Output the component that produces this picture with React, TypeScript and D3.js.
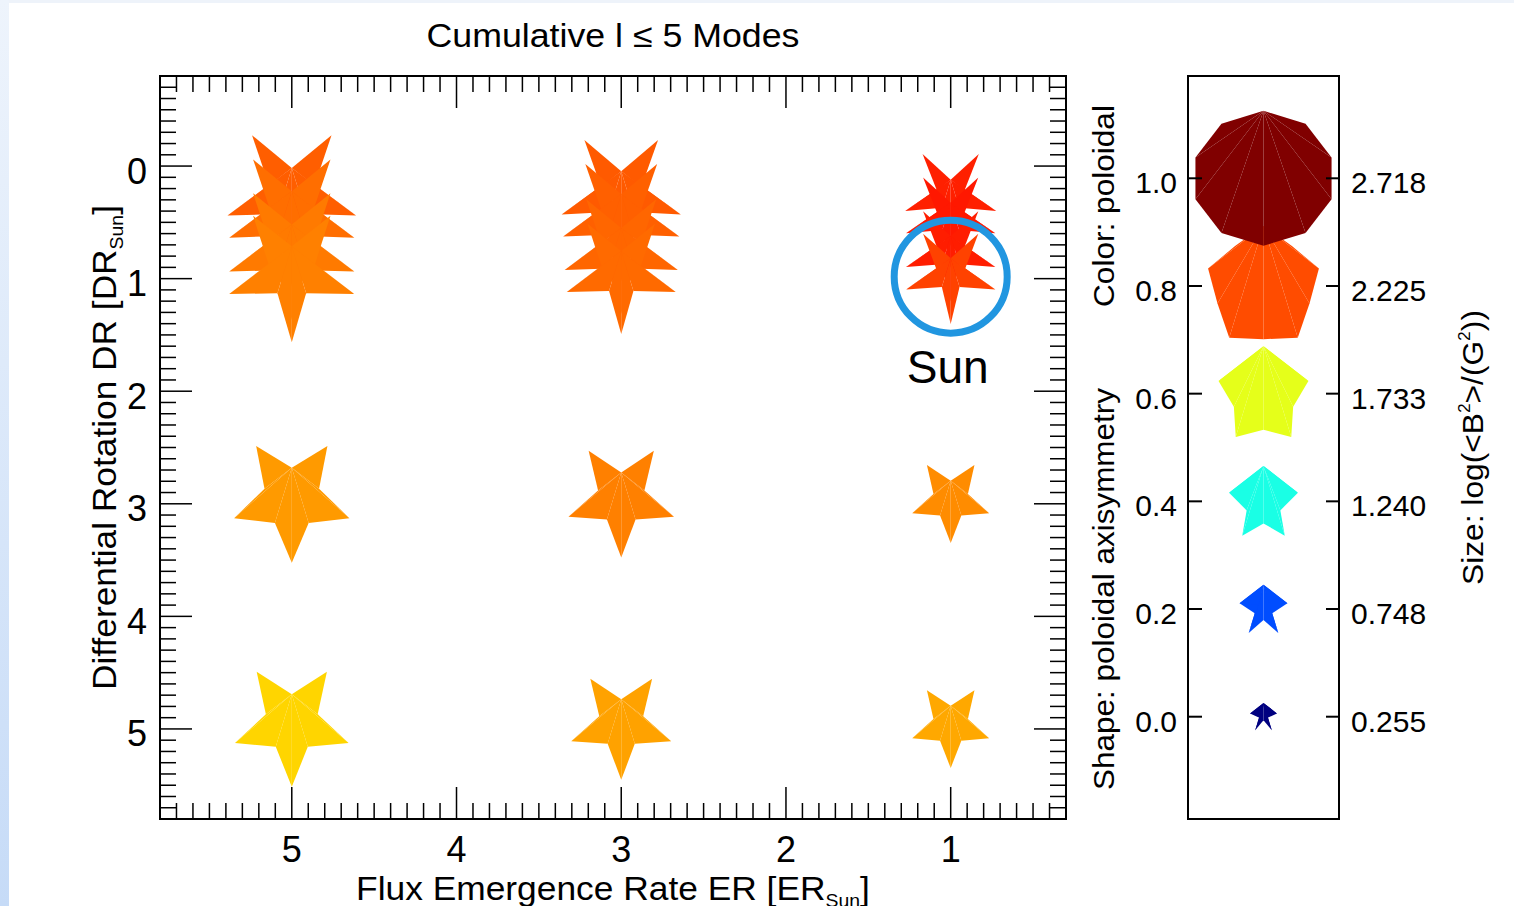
import React, { useEffect, useRef } from 'react';
import * as d3 from 'd3';

const W = 1514;
const H = 906;
const FONT = '"Liberation Sans", Arial, Helvetica, sans-serif';

// ---- data ----
const erValues = [5, 5, 5, 5, 5, 5, 3, 3, 3, 3, 3, 3, 1, 1, 1, 1, 1, 1];
const drValues = [0.3, 0.5, 0.8, 1.0, 3, 5, 0.3, 0.5, 0.8, 1.0, 3, 5, 0.3, 0.5, 0.8, 1.0, 3, 5];
// colour: poloidal fraction
const poloidal = [0.783, 0.767, 0.755, 0.75, 0.724, 0.666, 0.787, 0.781, 0.775, 0.771, 0.75, 0.716, 0.844, 0.851, 0.847, 0.81, 0.738, 0.71];
// shape: poloidal axisymmetry
const axisymmetry = [0.24, 0.24, 0.25, 0.26, 0.38, 0.36, 0.22, 0.23, 0.24, 0.25, 0.34, 0.34, 0.18, 0.18, 0.19, 0.2, 0.35, 0.35];
// size: log(<B^2>/G^2)
const logB2 = [2.64, 2.56, 2.56, 2.56, 2.33, 2.29, 2.42, 2.35, 2.28, 2.18, 2.1, 1.97, 1.76, 1.72, 1.72, 1.72, 1.43, 1.43];

const sunER = 1;
const sunDR = 1;

const xTicks = [5, 4, 3, 2, 1];
const yTicks = [0, 1, 2, 3, 4, 5];

const legendLevels = [0.0, 0.2, 0.4, 0.6, 0.8, 1.0];
const legendLeftLabels = ['0.0', '0.2', '0.4', '0.6', '0.8', '1.0'];
const legendSizes = [0.255, 0.748, 1.24, 1.733, 2.225, 2.718];
const legendRightLabels = ['0.255', '0.748', '1.240', '1.733', '2.225', '2.718'];

function jet(v: number): string {
  const c = (t: number) => Math.max(0, Math.min(1, t));
  const r = c(1.5 - Math.abs(4 * v - 3));
  const g = c(1.5 - Math.abs(4 * v - 2));
  const b = c(1.5 - Math.abs(4 * v - 1));
  return d3.rgb(r * 255, g * 255, b * 255).formatHex();
}

function symbolVerts(R: number, k: number, flip: boolean): [number, number][] {
  const poly = k >= 0.99;
  const sx = poly ? 0.97 : 0.94;
  const sy = poly ? 0.915 : 1;
  const sh = poly ? 0 : 0.09 * R * Math.min(1, (1 - k) / 0.55);
  const pts: [number, number][] = [];
  for (let i = 0; i < 10; i++) {
    const th = (i * Math.PI) / 5;
    const rho = i % 2 === 0 ? R : k * R;
    const x = sx * rho * Math.sin(th);
    let y = sy * (-rho * Math.cos(th)) + sh;
    if (flip) y = -y;
    pts.push([x, y]);
  }
  return pts;
}

function drawSymbol(g: any, cx: number, cy: number, R: number, k: number, color: string, flip: boolean) {
  const pts = symbolVerts(R, k, flip).map(([x, y]) => [cx + x, cy + y] as [number, number]);
  const o = flip ? 5 : 0;
  const line = d3.line();
  const sg = g.append('g');
  for (let j = 1; j <= 8; j++) {
    const a = pts[o];
    const b = pts[(o + j) % 10];
    const c = pts[(o + j + 1) % 10];
    sg.append('path').attr('d', line([a, b, c]) + 'Z').attr('fill', color).attr('stroke', 'none');
  }
}

type Part = { t: string; sub?: boolean; sup?: boolean };

function label(parent: any, x: number, y: number, parts: Part[], opts: { size: number; anchor?: string; rotate?: number; width?: number; family?: string }) {
  const { size, anchor = 'middle', rotate = 0, width, family = FONT } = opts;
  const g = parent.append('g').attr('transform', `translate(${x},${y}) rotate(${rotate})`);
  const t = g.append('text').attr('font-family', family).attr('font-size', size).attr('text-anchor', anchor).attr('fill', '#000').attr('x', 0).attr('y', 0);
  let cur = 0;
  parts.forEach((p) => {
    let target = 0;
    let fs = size;
    if (p.sub) { target = size * 0.2; fs = size * 0.55; }
    if (p.sup) { target = -size * 0.42; fs = size * 0.55; }
    const ts = t.append('tspan').attr('font-size', fs).text(p.t);
    if (target !== cur) ts.attr('dy', target - cur);
    cur = target;
  });
  if (width) {
    const w = (t.node() as SVGTextElement).getBBox().width;
    if (w > 0) t.attr('transform', `scale(${width / w},1)`);
  }
  return g;
}

export default function App() {
  const ref = useRef<SVGSVGElement | null>(null);

  useEffect(() => {
    const svg = d3.select(ref.current);
    svg.selectAll('*').remove();

    // background
    const defs = svg.append('defs');
    const grad = defs.append('linearGradient').attr('id', 'edge').attr('x1', 0).attr('y1', 0).attr('x2', 0).attr('y2', 1);
    grad.append('stop').attr('offset', '0%').attr('stop-color', '#eef4fc');
    grad.append('stop').attr('offset', '100%').attr('stop-color', '#c6dbf7');
    svg.append('rect').attr('x', 0).attr('y', 0).attr('width', W).attr('height', H).attr('fill', '#ffffff');
    svg.append('rect').attr('x', 0).attr('y', 0).attr('width', W).attr('height', 3).attr('fill', '#eef3fa');
    svg.append('rect').attr('x', 0).attr('y', 0).attr('width', 9).attr('height', H).attr('fill', 'url(#edge)');

    // ---- main plot ----
    const L = 160, R = 1066, T = 76, B = 819;
    const x = d3.scaleLinear().domain([5.8, 0.3]).range([L, R]);
    const y = d3.scaleLinear().domain([-0.8, 5.8]).range([T, B]);
    const rScale = d3.scaleLinear().domain([0.255, 2.225]).range([15, 62]);
    const kScale = d3.scaleLinear().domain([0, 1]).range([0.15, 1]);

    const marks = svg.append('g');
    erValues.forEach((er, i) => {
      drawSymbol(marks, x(er), y(drValues[i]), rScale(logB2[i]), kScale(axisymmetry[i]), jet(poloidal[i]), true);
    });

    // Sun marker
    svg.append('circle').attr('cx', x(sunER)).attr('cy', y(sunDR) - 2).attr('r', 56.5)
      .attr('fill', 'none').attr('stroke', '#2196e0').attr('stroke-width', 7);
    label(svg, x(sunER) - 3, y(sunDR) + 104, [{ t: 'Sun' }], { size: 46, width: 82 });

    // axes frame and ticks
    const ax = svg.append('g').attr('stroke', '#000');
    const xMinor = d3.range(4, 58).map((d) => d / 10).filter((d) => Math.abs(d - Math.round(d)) > 1e-6);
    const yMinor = d3.range(-7, 58).map((d) => d / 10).filter((d) => Math.abs(d - Math.round(d)) > 1e-6);
    xMinor.forEach((v) => {
      ax.append('line').attr('x1', x(v)).attr('x2', x(v)).attr('y1', B).attr('y2', B - 16).attr('stroke-width', 1.5);
      ax.append('line').attr('x1', x(v)).attr('x2', x(v)).attr('y1', T).attr('y2', T + 16).attr('stroke-width', 1.5);
    });
    xTicks.forEach((v) => {
      ax.append('line').attr('x1', x(v)).attr('x2', x(v)).attr('y1', B).attr('y2', B - 32).attr('stroke-width', 1.5);
      ax.append('line').attr('x1', x(v)).attr('x2', x(v)).attr('y1', T).attr('y2', T + 32).attr('stroke-width', 1.5);
    });
    yMinor.forEach((v) => {
      ax.append('line').attr('x1', L).attr('x2', L + 16).attr('y1', y(v)).attr('y2', y(v)).attr('stroke-width', 1.5);
      ax.append('line').attr('x1', R).attr('x2', R - 16).attr('y1', y(v)).attr('y2', y(v)).attr('stroke-width', 1.5);
    });
    yTicks.forEach((v) => {
      ax.append('line').attr('x1', L).attr('x2', L + 32).attr('y1', y(v)).attr('y2', y(v)).attr('stroke-width', 1.5);
      ax.append('line').attr('x1', R).attr('x2', R - 32).attr('y1', y(v)).attr('y2', y(v)).attr('stroke-width', 1.5);
    });
    ax.append('rect').attr('x', L).attr('y', T).attr('width', R - L).attr('height', B - T)
      .attr('fill', 'none').attr('stroke-width', 2);

    // tick labels
    xTicks.forEach((v) => label(svg, x(v), 862, [{ t: String(v) }], { size: 36 }));
    yTicks.forEach((v) => label(svg, 147, y(v) + 17.5, [{ t: String(v) }], { size: 36, anchor: 'end' }));

    // titles
    label(svg, (L + R) / 2, 47, [{ t: 'Cumulative l \u2264 5 Modes' }], { size: 33, width: 373 });
    label(svg, (L + R) / 2, 900, [{ t: 'Flux Emergence Rate ER [ER' }, { t: 'Sun', sub: true }, { t: ']' }], { size: 33, width: 514 });
    label(svg, 116, (T + B) / 2, [{ t: 'Differential Rotation DR [DR' }, { t: 'Sun', sub: true }, { t: ']' }], { size: 33, rotate: -90, width: 485 });

    // ---- legend panel ----
    const LL = 1188, LR = 1339;
    const ly = d3.scaleLinear().domain([-0.19, 1.19]).range([B, T]);
    const lcx = (LL + LR) / 2;
    const leg = svg.append('g');
    legendLevels.forEach((v, i) => {
      drawSymbol(leg, lcx, ly(v), rScale(legendSizes[i]), kScale(v), jet(v), false);
    });
    const lax = svg.append('g').attr('stroke', '#000');
    legendLevels.forEach((v) => {
      lax.append('line').attr('x1', LL).attr('x2', LL + 14).attr('y1', ly(v)).attr('y2', ly(v)).attr('stroke-width', 2);
      lax.append('line').attr('x1', LR).attr('x2', LR - 13).attr('y1', ly(v)).attr('y2', ly(v)).attr('stroke-width', 2);
    });
    lax.append('rect').attr('x', LL).attr('y', T).attr('width', LR - LL).attr('height', B - T)
      .attr('fill', 'none').attr('stroke-width', 2);

    legendLevels.forEach((v, i) => {
      label(svg, 1177, ly(v) + 15, [{ t: legendLeftLabels[i] }], { size: 30, anchor: 'end' });
      label(svg, 1351, ly(v) + 15, [{ t: legendRightLabels[i] }], { size: 30, anchor: 'start' });
    });

    label(svg, 1114, 206, [{ t: 'Color: poloidal' }], { size: 30, rotate: -90, width: 202 });
    label(svg, 1114, 589, [{ t: 'Shape: poloidal axisymmetry' }], { size: 30, rotate: -90, width: 402 });
    label(svg, 1483, 447.5, [{ t: 'Size: log(<B' }, { t: '2', sup: true }, { t: '>/(G' }, { t: '2', sup: true }, { t: '))' }], { size: 30, rotate: -90, width: 275 });
  }, []);

  return (
    <svg
      ref={ref}
      width={W}
      height={H}
      viewBox={`0 0 ${W} ${H}`}
      style={{ position: 'absolute', left: 0, top: 0, display: 'block', background: '#fff' }}
    />
  );
}
